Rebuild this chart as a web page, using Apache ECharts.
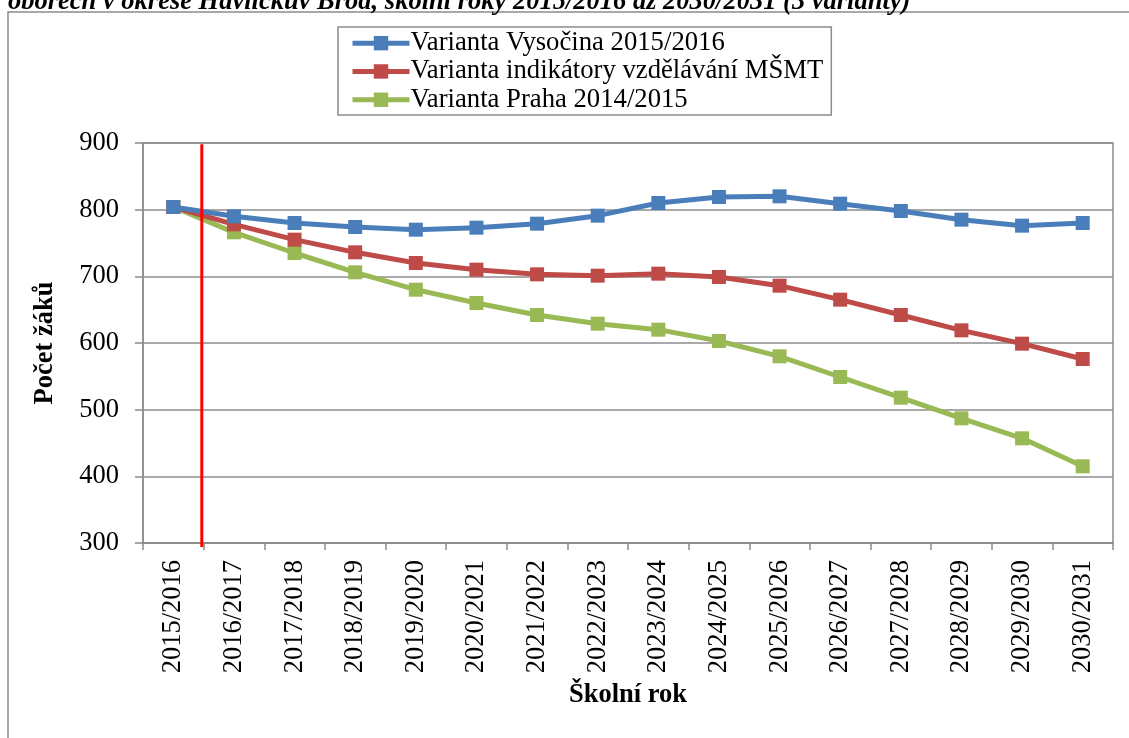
<!DOCTYPE html>
<html><head><meta charset="utf-8">
<script src="https://cdn.jsdelivr.net/npm/echarts@6/dist/echarts.min.js"></script>
<style>html,body{margin:0;padding:0;background:#fff}#c{width:1129px;height:738px}</style>
</head><body><div id="c"></div>
<script>
const categories = ['2015/2016','2016/2017','2017/2018','2018/2019','2019/2020','2020/2021','2021/2022','2022/2023','2023/2024','2024/2025','2025/2026','2026/2027','2027/2028','2028/2029','2029/2030','2030/2031'];
const seriesNames = ['Varianta Vysočina 2015/2016','Varianta indikátory vzdělávání MŠMT','Varianta Praha 2014/2015'];
const vysocina = [804, 790, 780, 774, 770, 773, 779, 791, 810, 819, 820, 809, 798, 785, 776, 780];
const msmt = [804, 778, 755, 736, 720, 710, 703, 701, 704, 699, 686, 665, 642, 619, 599, 576];
const praha = [804, 766, 735, 706, 680, 660, 642, 629, 620, 603, 580, 549, 518, 487, 457, 415];
const yTicks = [300, 900, 100]; // min, max, interval
const redLine = [[0.47, 898], [0.47, 294]];
const titleText = 'oborech v okrese Havlíčkův Brod, školní roky 2015/2016 až 2030/2031 (3 varianty)';
const colors = ['#4A7EBB', '#BE4B48', '#98B954'];

const font = '"Liberation Serif", "Times New Roman", serif';
const fs = 26.5;
const chart = echarts.init(document.getElementById('c'), null, {renderer: 'canvas'});
const mk = (name, data, i) => ({
  name, type: 'line', data, xAxisIndex: 0, yAxisIndex: 0,
  symbol: 'rect', symbolSize: 14,
  lineStyle: {color: colors[i], width: 5},
  itemStyle: {color: colors[i]},
  z: 3 + (2 - i)
});
chart.setOption({
  animation: false,
  backgroundColor: '#fff',
  graphic: [
    {type: 'rect', shape: {x: 8, y: 12, width: 1140, height: 740}, style: {fill: 'none', stroke: '#8c8c8c', lineWidth: 1.5}, z: -10},
    {type: 'text', x: 8, y: -11, style: {text: titleText, font: 'italic bold 26.5px ' + font, fill: '#000'}}
  ],
  grid: {left: 143, right: 16, top: 143, bottom: 195, show: true, borderColor: '#8c8c8c', borderWidth: 1.5, backgroundColor: 'transparent'},
  legend: {
    data: seriesNames, orient: 'vertical', left: 338, top: 27,
    padding: [2, 8, 1, 12], itemGap: 0, itemWidth: 57, itemHeight: 18,
    borderColor: '#8c8c8c', borderWidth: 1.5,
    lineStyle: {width: 5},
    textStyle: {fontFamily: font, fontSize: 26.7, color: '#000', lineHeight: 28.3, padding: [0, 0, 0, -4]}
  },
  xAxis: [{
    type: 'category', data: categories, boundaryGap: true,
    name: 'Školní rok', nameLocation: 'middle', nameGap: 125,
    nameTextStyle: {fontFamily: font, fontSize: fs, fontWeight: 'bold', color: '#000'},
    axisLine: {lineStyle: {color: '#8c8c8c', width: 1.5}},
    axisTick: {show: true, length: 7, lineStyle: {color: '#8c8c8c', width: 1.5}},
    axisLabel: {rotate: 90, margin: 17, fontFamily: font, fontSize: fs, color: '#000', interval: 0},
    splitLine: {show: false}
  }, {
    type: 'value', min: -0.5, max: 15.5, show: false,
    splitLine: {show: false}, axisLine: {show: false}, axisTick: {show: false}, axisLabel: {show: false}
  }],
  yAxis: {
    type: 'value', min: yTicks[0], max: yTicks[1], interval: yTicks[2],
    name: 'Počet žáků', nameLocation: 'middle', nameGap: 84, nameRotate: 90,
    nameTextStyle: {fontFamily: font, fontSize: fs, fontWeight: 'bold', color: '#000'},
    axisLine: {show: true, onZero: false, lineStyle: {color: '#8c8c8c', width: 1.5}},
    axisTick: {show: true, length: 8, lineStyle: {color: '#8c8c8c', width: 1.5}},
    axisLabel: {margin: 24, fontFamily: font, fontSize: fs, color: '#000'},
    splitLine: {show: true, lineStyle: {color: '#8c8c8c', width: 1.5}}
  },
  series: [
    mk(seriesNames[0], vysocina, 0),
    mk(seriesNames[1], msmt, 1),
    mk(seriesNames[2], praha, 2),
    {type: 'line', xAxisIndex: 1, yAxisIndex: 0, data: redLine, symbol: 'none', clip: false,
     lineStyle: {color: '#FF0000', width: 3}, z: 10, silent: true, legendHoverLink: false}
  ]
});
</script></body></html>
